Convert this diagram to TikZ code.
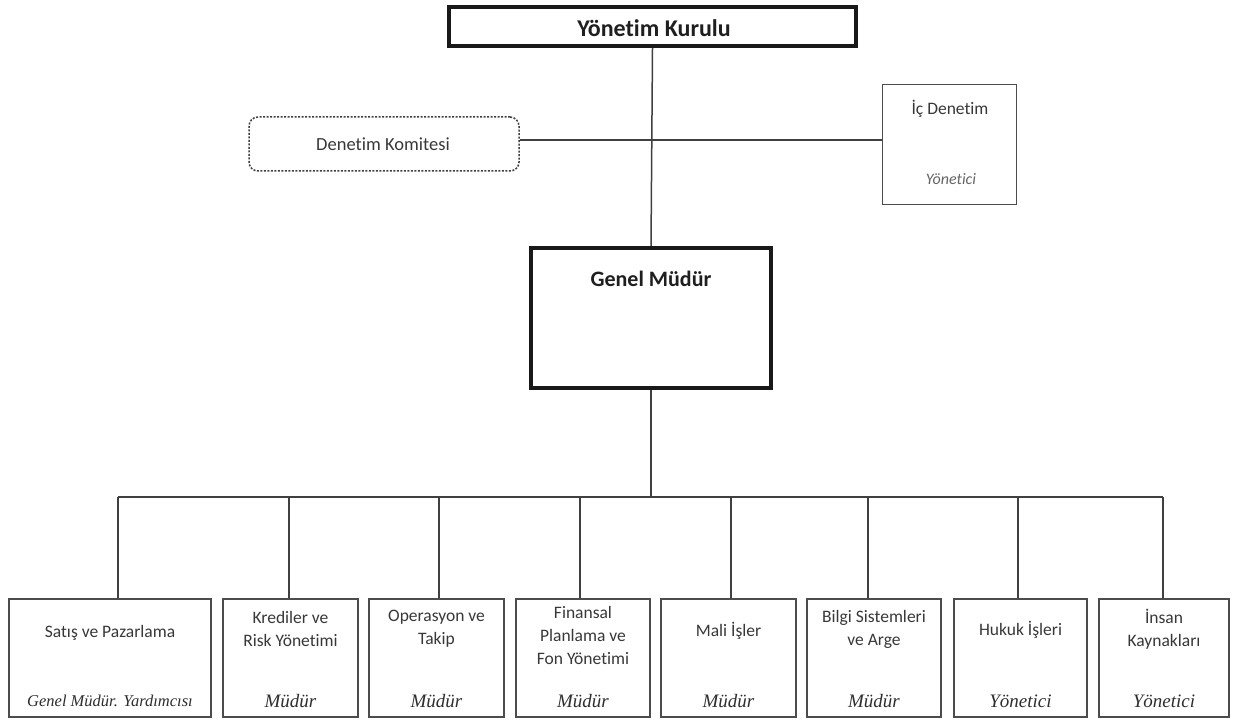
\documentclass[tikz,border=0pt]{standalone}
\usepackage{fontspec}
\setmainfont{Carlito}[Ligatures={NoCommon}]
\newfontfamily\serifit{Liberation Serif}
\usetikzlibrary{calc}
\begin{document}
\begin{tikzpicture}[x=1pt,y=-1pt,
  thickbox/.style={draw=black!90, line width=4pt, fill=white, inner sep=0pt},
  unitbox/.style={draw=black!70, line width=1.8pt, fill=white, inner sep=0pt, minimum height=118pt},
  conn/.style={draw=black!75, line width=1.5pt},
  lbl/.style={font=\fontsize{17.5}{23}\selectfont, text=black!78, align=center, inner sep=0pt},
  rank/.style={font=\fontsize{19}{20}\serifit\itshape, text=black!82, inner sep=0pt},
  head/.style={font=\fontsize{22}{24}\selectfont\bfseries, text=black!88, inner sep=0pt}]
\useasboundingbox (0,0) rectangle (1233,722);
\fill[white] (0,0) rectangle (1233,722);

% top
\node[thickbox, minimum width=407pt, minimum height=39pt] (yk) at (652.5,26.5) {};
\node[head, font=\fontsize{24}{26}\selectfont\bfseries] (ykl) at (654,28) {Yönetim Kurulu};
\node[thickbox, minimum width=240pt, minimum height=140pt] (gm) at (651,318) {};
\node[head] (gml) at (651,279) {Genel Müdür};

% side units
\node[draw=black!75, line width=1.5pt, dash pattern=on 2pt off 1.5pt, rounded corners=9pt,
      fill=white, minimum width=270pt, minimum height=54pt, inner sep=0pt] (dk) at (384,144) {};
\node[lbl, font=\fontsize{18.5}{23}\selectfont] (dkl) at (383,144) {Denetim Komitesi};
\node[draw=black!70, line width=1.5pt, fill=white, minimum width=134pt, minimum height=120pt, inner sep=0pt] (id) at (949.5,144.5) {};
\node[lbl] (idl) at (950,109) {İç Denetim};
\node[font=\fontsize{16}{18}\selectfont\itshape, text=black!60, inner sep=0pt] (idr) at (951,179) {Yönetici};

% connectors (top part)
\draw[conn] (dk.east |- 0,140) -- (id.west |- 0,140);
\draw[conn] (yk.south) -- (gm.north);

% bottom boxes
\node[unitbox, minimum width=202pt] (b1) at (110,658) {};
\node[unitbox, minimum width=135pt] (b2) at (290.5,658) {};
\node[unitbox, minimum width=135pt] (b3) at (436.5,658) {};
\node[unitbox, minimum width=134pt] (b4) at (583,658) {};
\node[unitbox, minimum width=135pt] (b5) at (728.5,658) {};
\node[unitbox, minimum width=134pt] (b6) at (874,658) {};
\node[unitbox, minimum width=133pt] (b7) at (1020.5,658) {};
\node[unitbox, minimum width=130pt] (b8) at (1164,658) {};

\node[lbl] (l1) at (110,633) {Satış ve Pazarlama};
\node[lbl] (l2) at (290.5,629) {Krediler ve\\Risk Yönetimi};
\node[lbl] (l3) at (436.5,629) {Operasyon ve\\Takip};
\node[lbl] (l4) at (583,635) {Finansal\\Planlama ve\\Fon Yönetimi};
\node[lbl] (l5) at (728.5,631) {Mali İşler};
\node[lbl] (l6) at (874,629) {Bilgi Sistemleri\\ve Arge};
\node[lbl] (l7) at (1020.5,630) {Hukuk İşleri};
\node[lbl] (l8) at (1164,629) {İnsan\\Kaynakları};

\node[rank, font=\fontsize{16.5}{20}\serifit\itshape] (r1) at (110,701) {Genel Müdür. Yardımcısı};
\node[rank] (r2) at (290.5,701) {Müdür};
\node[rank] (r3) at (436.5,701) {Müdür};
\node[rank] (r4) at (583,701) {Müdür};
\node[rank] (r5) at (728.5,701) {Müdür};
\node[rank] (r6) at (874,701) {Müdür};
\node[rank] (r7) at (1020.5,701) {Yönetici};
\node[rank] (r8) at (1164,701) {Yönetici};

% bus
\coordinate (bus) at (651,497);
\draw[conn] (gm.south) -- (bus);
\foreach \i/\dx in {1/8,2/-1.5,3/2.5,4/-3,5/2.5,6/-6,7/-2.5,8/-1} {
  \coordinate (s\i) at ($(b\i.north)+(\dx,0)$);
  \draw[conn] (bus -| s\i) -- (s\i);}
\draw[conn] (bus -| s1) -- (bus -| s8);
\end{tikzpicture}
\end{document}
